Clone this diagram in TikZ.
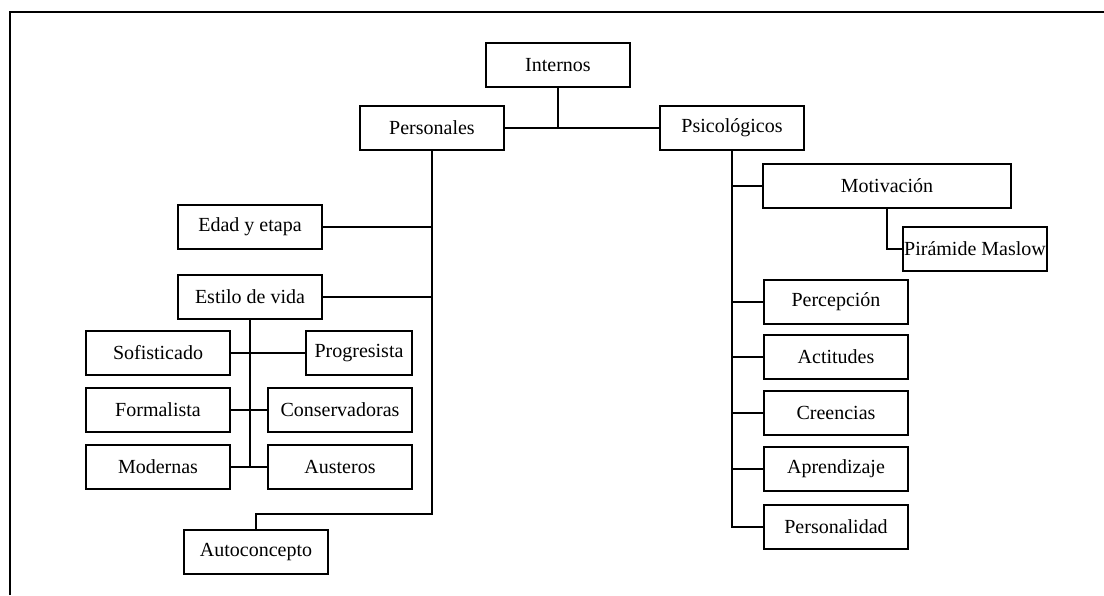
\documentclass[tikz,border=0pt]{standalone}
\usepackage{fontspec}
\setmainfont{Liberation Serif}
\begin{document}
\begin{tikzpicture}[x=1pt,y=-1pt,
  box/.style={draw,line width=2pt,minimum width=144pt,minimum height=44pt,inner sep=0pt,font=\fontsize{20}{24}\selectfont},
  conn/.style={line width=2pt}]
\useasboundingbox (0,0) rectangle (1104,595);
\draw[line width=2pt] (10,595) -- (10,12) -- (1104,12);
% nodes
\node[box] (int) at (558,65) {Internos};
\node[box] (pers) at (432,128) {Personales};
\node[box] (psi) at (732,128) {Psicológicos};
\node[box] (edad) at (250,227) {Edad y etapa};
\node[box] (estilo) at (250,297) {Estilo de vida};
\node[box] (sof) at (158,353) {Sofisticado};
\node[box,minimum width=106pt] (prog) at (359,353) {Progresista};
\node[box] (form) at (158,410) {Formalista};
\node[box] (cons) at (340,410) {Conservadoras};
\node[box] (mod) at (158,467) {Modernas};
\node[box] (aus) at (340,467) {Austeros};
\node[box] (auto) at (256,552) {Autoconcepto};
\node[box,minimum width=248pt] (mot) at (887,186) {Motivación};
\node[box] (pir) at (975,249) {Pirámide Maslow};
\node[box] (perc) at (836,302) {Percepción};
\node[box] (act) at (836,357) {Actitudes};
\node[box] (cre) at (836,413) {Creencias};
\node[box] (apr) at (836,469) {Aprendizaje};
\node[box] (perso) at (836,527) {Personalidad};
% coordinates
\coordinate (pbot) at (432,514);
\coordinate (ebot) at (250,467);
% connectors
\draw[conn] (int.south) -- (int.south |- pers.east);
\draw[conn] (pers.east) -- (psi.west);
\draw[conn] (pers.south) -- (pbot) -| (auto.north);
\draw[conn] (edad.east) -- (edad.east -| pers.south);
\draw[conn] (estilo.east) -- (estilo.east -| pers.south);
\draw[conn] (estilo.south) -- (ebot);
\draw[conn] (sof.east) -- (prog.west);
\draw[conn] (form.east) -- (cons.west);
\draw[conn] (mod.east) -- (aus.west);
\draw[conn] (psi.south) -- (psi.south |- perso.west) -- (perso.west);
\foreach \n in {mot,perc,act,cre,apr} \draw[conn] (\n.west) -- (\n.west -| psi.south);
\draw[conn] (mot.south) |- (pir.west);
\end{tikzpicture}
\end{document}
